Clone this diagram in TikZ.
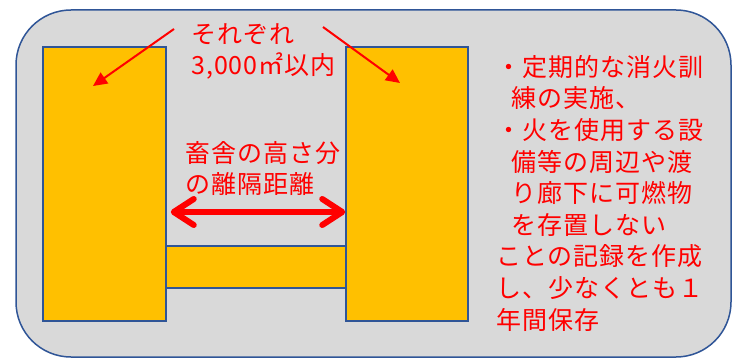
\documentclass[tikz,border=0pt]{standalone}
\usepackage{fontspec}
\setmainfont{Noto Sans CJK JP}
\newfontfamily\notefont[LetterSpace=4]{Noto Sans CJK JP}
\usetikzlibrary{arrows.meta}
\definecolor{barnfill}{HTML}{FFC000}
\definecolor{edgeblue}{HTML}{2F5597}
\definecolor{yardgray}{HTML}{D9D9D9}
\definecolor{notered}{HTML}{FF0000}
\tikzset{
  barn/.style={draw=edgeblue, fill=barnfill, line width=1.5pt, inner sep=0pt},
  note/.style={text=notered, font=\notefont\fontsize{25}{31.6}\selectfont, align=left, inner sep=0pt, anchor=north west},
  pointer/.style={draw=notered, line width=2pt, -{Triangle[length=14pt,width=13pt]}},
  gaparrow/.style={draw=notered, line width=6pt,
    {Straight Barb[length=20pt,width=26pt,round]}-{Straight Barb[length=20pt,width=26pt,round]}},
}
\begin{document}
\begin{tikzpicture}[x=1pt,y=-1pt]
\useasboundingbox (0,0) rectangle (733,358);
% yard
\draw[edgeblue, fill=yardgray, line width=1.5pt, rounded corners=55pt] (16,10) rectangle (731,357);
% barns and corridor
\node[barn, minimum width=180pt, minimum height=42pt] (hall) at (256,267) {};
\node[barn, minimum width=123pt, minimum height=274pt] (lbarn) at (104.5,184) {};
\node[barn, minimum width=122pt, minimum height=274pt] (rbarn) at (407,184) {};
% labels
\node[note] (each) at (191,23) {それぞれ\\3,000㎡以内};
\node[note] (gap) at (185,141) {畜舎の高さ分\\の離隔距離};
\node[note] (rule) at (496,55) {・定期的な消火訓\\\hspace{15pt}練の実施、\\・火を使用する設\\\hspace{15pt}備等の周辺や渡\\\hspace{15pt}り廊下に可燃物\\\hspace{15pt}を存置しない\\ことの記録を作成\\し、少なくとも１\\年間保存};
% arrows
\coordinate (ltail) at (174,29);
\coordinate (lhead) at (93,86);
\coordinate (rtail) at (323,27);
\coordinate (rhead) at (400,83);
\draw[pointer] (ltail) -- (lhead);
\draw[pointer] (rtail) -- (rhead);
\coordinate (gapl) at ([xshift=4pt]lbarn.east |- 0,212);
\coordinate (gapr) at (rbarn.west |- 0,212);
\draw[gaparrow] (gapl) -- (gapr);
\end{tikzpicture}
\end{document}
